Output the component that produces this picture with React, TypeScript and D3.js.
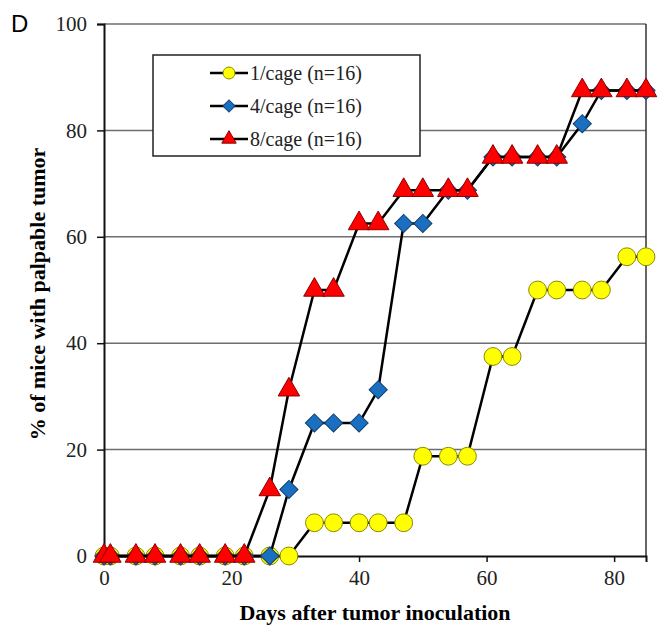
import React, { useEffect, useRef } from 'react'
import * as d3 from 'd3'

const days = [0, 1, 5, 8, 12, 15, 19, 22, 26, 29, 33, 36, 40, 43, 47, 50, 54, 57, 61, 64, 68, 71, 75, 78, 82, 85]
const cage1 = [0, 0, 0, 0, 0, 0, 0, 0, 0, 0, 6.25, 6.25, 6.25, 6.25, 6.25, 18.75, 18.75, 18.75, 37.5, 37.5, 50, 50, 50, 50, 56.25, 56.25]
const cage4 = [0, 0, 0, 0, 0, 0, 0, 0, 0, 12.5, 25, 25, 25, 31.25, 62.5, 62.5, 68.75, 68.75, 75, 75, 75, 75, 81.25, 87.5, 87.5, 87.5]
const cage8 = [0, 0, 0, 0, 0, 0, 0, 0, 12.5, 31.25, 50, 50, 62.5, 62.5, 68.75, 68.75, 68.75, 68.75, 75, 75, 75, 75, 87.5, 87.5, 87.5, 87.5]
const seriesNames = ['1/cage (n=16)', '4/cage (n=16)', '8/cage (n=16)']
const xTicks = [0, 20, 40, 60, 80]
const yTicks = [0, 20, 40, 60, 80, 100]

const serif = '"Liberation Serif", "Times New Roman", serif'

const App = () => {
  const svgRef = useRef(null)

  useEffect(() => {
    const width = 659
    const height = 630
    const svg = d3.select(svgRef.current).attr('width', width).attr('height', height)
    svg.selectAll('*').remove()

    const x = d3.scaleLinear().domain([0, 85]).range([104, 646])
    const y = d3.scaleLinear().domain([0, 100]).range([556, 24])

    // gridlines
    svg
      .append('g')
      .selectAll('line')
      .data(yTicks.filter((d) => d > 0))
      .enter()
      .append('line')
      .attr('x1', x(0))
      .attr('x2', x(85))
      .attr('y1', (d) => y(d))
      .attr('y2', (d) => y(d))
      .attr('stroke', '#6e6e6e')
      .attr('stroke-width', 1.5)

    // right frame
    svg
      .append('line')
      .attr('x1', x(85))
      .attr('x2', x(85))
      .attr('y1', y(100))
      .attr('y2', y(0))
      .attr('stroke', '#333')
      .attr('stroke-width', 1.5)

    // axes
    const xAxis = d3.axisBottom(x).tickValues(xTicks).tickSize(6).tickPadding(8)
    const gx = svg.append('g').attr('transform', `translate(0, ${y(0)})`).call(xAxis)
    const yAxis = d3.axisLeft(y).tickValues(yTicks).tickSize(7).tickPadding(10)
    const gy = svg.append('g').attr('transform', `translate(${x(0)}, 0)`).call(yAxis)
    ;[gx, gy].forEach((g) => {
      g.select('.domain').attr('stroke', '#111').attr('stroke-width', 2)
      g.selectAll('.tick line').attr('stroke', '#111').attr('stroke-width', 1.5)
      g.selectAll('.tick text')
        .attr('font-family', serif)
        .attr('font-size', 21)
        .attr('fill', '#222')
    })

    // titles
    svg
      .append('text')
      .attr('x', x(42.5))
      .attr('y', 620)
      .attr('text-anchor', 'middle')
      .attr('font-family', serif)
      .attr('font-weight', 'bold')
      .attr('font-size', 22)
      .text('Days after tumor inoculation')
    svg
      .append('text')
      .attr('transform', `translate(45, ${y(50) + 4}) rotate(-90)`)
      .attr('text-anchor', 'middle')
      .attr('font-family', serif)
      .attr('font-weight', 'bold')
      .attr('font-size', 22)
      .text('% of mice with palpable tumor')
    svg
      .append('text')
      .attr('x', 11)
      .attr('y', 32)
      .attr('font-family', '"Liberation Sans", Arial, sans-serif')
      .attr('font-size', 24)
      .text('D')

    const styles = [
      { values: cage1, shape: d3.symbolCircle, size: 250, rot: 0, fill: '#ffff00', stroke: '#8a8a00' },
      { values: cage4, shape: d3.symbolSquare, size: 165, rot: 45, fill: '#1b6fc0', stroke: '#0f3f70' },
      { values: cage8, shape: d3.symbolTriangle, size: 200, rot: 0, fill: '#ff0000', stroke: '#8b0000' },
    ]

    const line = d3
      .line()
      .x((d) => x(d[0]))
      .y((d) => y(d[1]))

    styles.forEach((s) => {
      const pts = days.map((d, i) => [d, s.values[i]])
      const g = svg.append('g')
      g.append('path')
        .attr('d', line(pts))
        .attr('fill', 'none')
        .attr('stroke', '#000')
        .attr('stroke-width', 2.5)
      g.selectAll('path.m')
        .data(pts)
        .enter()
        .append('path')
        .attr('class', 'm')
        .attr('d', d3.symbol().type(s.shape).size(s.size))
        .attr('transform', (d) => `translate(${x(d[0])}, ${y(d[1])}) rotate(${s.rot})`)
        .attr('fill', s.fill)
        .attr('stroke', s.stroke)
        .attr('stroke-width', 1)
    })

    // legend
    const legend = svg.append('g')
    legend
      .append('rect')
      .attr('x', 153)
      .attr('y', 55)
      .attr('width', 267)
      .attr('height', 101)
      .attr('fill', '#fff')
      .attr('stroke', '#222')
      .attr('stroke-width', 1.5)
    seriesNames.forEach((name, i) => {
      const s = styles[i]
      const item = legend.append('g').attr('transform', `translate(0, ${73 + i * 33})`)
      item.append('line').attr('x1', 210).attr('x2', 248).attr('y1', 0).attr('y2', 0).attr('stroke', '#000').attr('stroke-width', 2.5)
      item
        .append('path')
        .attr('d', d3.symbol().type(s.shape).size(s.size * 0.45))
        .attr('transform', `translate(229, 0) rotate(${s.rot})`)
        .attr('fill', s.fill)
        .attr('stroke', s.stroke)
        .attr('stroke-width', 1)
      item
        .append('text')
        .attr('x', 250)
        .attr('y', 0)
        .attr('dy', '0.35em')
        .attr('font-family', serif)
        .attr('font-size', 20)
        .attr('fill', '#222')
        .text(name)
    })
  }, [])

  return (
    <div style={{ position: 'absolute', left: 0, top: 0 }}>
      <svg ref={svgRef} style={{ display: 'block', background: '#fff' }}></svg>
    </div>
  )
}

export default App
